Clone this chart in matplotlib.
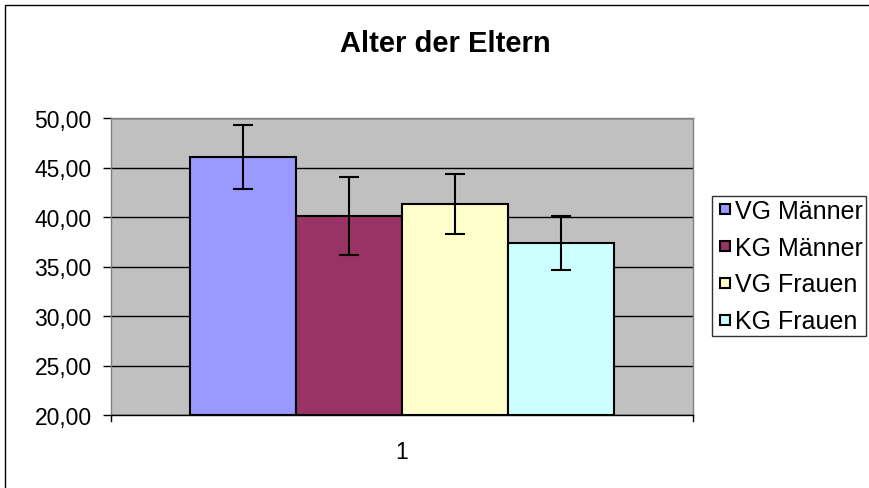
import matplotlib
matplotlib.use("Agg")
import matplotlib.pyplot as plt
from matplotlib.patches import Rectangle
from matplotlib.lines import Line2D
from matplotlib.ticker import FuncFormatter

plt.rcParams['font.family'] = ['Liberation Sans', 'DejaVu Sans']

series = ["VG Männer", "KG Männer", "VG Frauen", "KG Frauen"]
means = [46.05, 40.10, 41.30, 37.35]
errors = [3.25, 3.95, 3.05, 2.75]
colors = ["#9999FF", "#993366", "#FFFFCC", "#CCFFFF"]
category = ["1"]
yticks = [20, 25, 30, 35, 40, 45, 50]

fig = plt.figure(figsize=(8.69, 4.89), dpi=100)
fig.patches.append(Rectangle((5/869, -0.1), 1.2, (489-6)/489 + 0.1, transform=fig.transFigure,
                             fill=False, edgecolor='black', linewidth=1.0))

ax = fig.add_axes([111/869, 73/489, 582/869, 297/489])
ax.set_facecolor('#C0C0C0')

bw = 0.7285 / 4
start = -0.7285 / 2
for i, (s, m, e, c) in enumerate(zip(series, means, errors, colors)):
    x = start + bw * (i + 0.5)
    ax.bar(x, m - 20, bottom=20, width=bw, color=c, edgecolor='black', linewidth=1.5, label=s, zorder=3)
    ax.errorbar(x, m, yerr=e, fmt='none', ecolor='black', elinewidth=1.5, capsize=7, capthick=1.5, zorder=4)

ax.set_xlim(-0.5, 0.5)
ax.set_ylim(20, 50)
ax.set_yticks(yticks)
ax.yaxis.set_major_formatter(FuncFormatter(lambda v, p: f"{v:.2f}".replace('.', ',')))
ax.grid(axis='y', color='black', linewidth=1.0, zorder=1)
ax.set_xticks([0])
ax.set_xticklabels(category)
ax.tick_params(axis='x', length=0, labelsize=16.5, pad=18)
ax.tick_params(axis='y', length=6, width=1, labelsize=16.5, pad=8, direction='out')
for side in ['top', 'right']:
    ax.spines[side].set_color('#808080')
ax.spines['left'].set_color('#808080')
ax.spines['bottom'].set_color('black')
for sp in ax.spines.values():
    sp.set_linewidth(1.0)
for xe in [0, 1]:
    ax.plot([xe, xe], [0, -0.02], transform=ax.transAxes, color='black', linewidth=1, clip_on=False)

fig.text(445/869, 1 - 52/489, "Alter der Eltern", ha='center', va='baseline', fontsize=21, fontweight='bold')

handles = [Line2D([], [], linestyle='none', marker='s', markersize=7, markerfacecolor=c,
                  markeredgecolor='black', markeredgewidth=1.5) for c in colors]
leg = fig.legend(handles, series, loc='upper left', bbox_to_anchor=(712/869, 1 - 197/489), fontsize=18,
                 frameon=True, fancybox=False, edgecolor='black', handlelength=0.8,
                 handletextpad=0.0, labelspacing=0.51, borderpad=0.12, borderaxespad=0)
leg.get_frame().set_linewidth(1.0)

fig.savefig("out.png", dpi=100)
